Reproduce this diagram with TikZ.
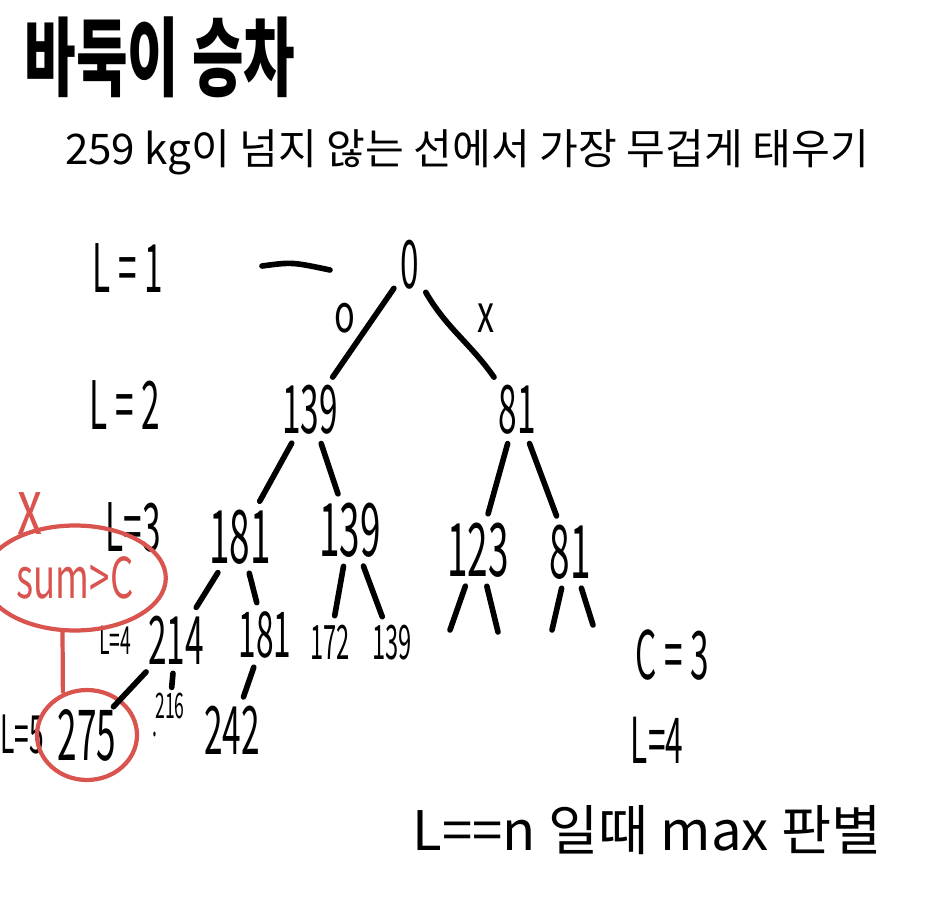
\documentclass[tikz,border=0pt]{standalone}
\usepackage{fontspec}
\usetikzlibrary{shapes.geometric}
\setmainfont{Noto Sans CJK KR}
\newfontfamily\numfont[FakeStretch=0.5]{Noto Sans CJK KR}
\newfontfamily\titlefont[FakeStretch=0.65]{Noto Sans CJK KR}
\newcommand{\fsz}[1]{\fontsize{#1}{#1}\selectfont}
\definecolor{pen}{HTML}{D9534F}

\begin{document}
\begin{tikzpicture}[x=0.02cm,y=-0.02cm]
  \tikzstyle{num} = [inner sep=2pt, font=\numfont\fsz{38pt}]
  \tikzstyle{big} = [inner sep=2pt, font=\numfont\fsz{42pt}]
  \tikzstyle{small} = [inner sep=2pt, font=\numfont\fsz{27pt}]
  \tikzstyle{edge} = [line width=3.2pt, line cap=round, shorten <=3pt, shorten >=3pt]
  \tikzstyle{redring} = [draw=pen, line width=2.4pt, ellipse]
  \useasboundingbox (0,0) rectangle (946,902);

  % Heading
  \node (title) at (160,57) {\titlefont\bfseries\fsz{49pt}바둑이 승차};
  \node (task) at (467,152) {\fsz{24pt}259 kg이 넘지 않는 선에서 가장 무겁게 태우기};

  % Levels
  \node [num] (lv1) at (128,268) {L = 1};
  \node [num] (lv2) at (125,405) {L = 2};
  \node [num] (lv3) at (133,527) {L=3};
  \node [small, font=\numfont\fsz{22pt}] (lv4) at (115,640) {L=4};
  \node [num, font=\numfont\fsz{30pt}] (lv5) at (22,735) {L=5};

  % Tree
  \node [num] (root) at (410,265) {0};
  \node [num] (a1) at (310,410) {139};
  \node [num] (a2) at (517,410) {81};
  \node [big] (b1) at (240,537) {181};
  \node [big] (b2) at (350,530) {139};
  \node [big] (b3) at (478,550) {123};
  \node [big] (b4) at (570,552) {81};
  \node [num] (c1) at (176,640) {214};
  \node [num, font=\numfont\fsz{36pt}] (c2) at (265,635) {181};
  \node [small] (c3) at (330,642) {172};
  \node [small] (c4) at (392,643) {139};
  \node [num, font=\numfont\fsz{40pt}, redring, minimum width=2cm, minimum height=1.8cm] (d1) at (87,735) {275};
  \node [small, font=\numfont\fsz{20pt}] (d2) at (170,706) {216};
  \node [num] (d3) at (232,730) {242};
  \node [small, font=\numfont\fsz{20pt}] (dot) at (155,735) {.};

  % Choice labels
  \node [num, font=\titlefont\fsz{30pt}] (yes) at (345,318) {o};
  \node [num, font=\titlefont\fsz{30pt}] (no) at (486,318) {x};

  % Open ends
  \coordinate (b3l) at (450,630);
  \coordinate (b3r) at (498,632);
  \coordinate (b4l) at (552,630);
  \coordinate (b4r) at (593,625);

  % Edges
  \draw [edge, shorten <=0pt, shorten >=0pt] (262,266) .. controls (292,262) .. (330,270);
  \draw [edge] (root) -- (a1);
  \draw [edge] (root) to[out=-60,in=125] (a2);
  \draw [edge] (a1) -- (b1);
  \draw [edge] (a1) -- (b2);
  \draw [edge] (a2) -- (b3);
  \draw [edge] (a2) -- (b4);
  \draw [edge] (b1) -- (c1);
  \draw [edge] (b1) -- (c2);
  \draw [edge] (b2) -- (c3);
  \draw [edge] (b2) -- (c4);
  \draw [edge, shorten >=0pt] (b3) -- (b3l);
  \draw [edge, shorten >=0pt] (b3) -- (b3r);
  \draw [edge, shorten >=0pt] (b4) -- (b4l);
  \draw [edge, shorten >=0pt] (b4) -- (b4r);
  \draw [edge, shorten >=-6pt] (c1) -- (d1);
  \draw [edge, shorten >=1pt] (c1) -- (d2);
  \draw [edge] (c2) -- (d3);

  % Pruned branch
  \node [redring, text=pen, font=\titlefont\fsz{32pt}, minimum width=2.96cm, minimum height=2.1cm] (sumc) at (75,578) {sum>C};
  \node [text=pen, font=\titlefont\fsz{44pt}] (cut) at (30,514) {x};
  \draw [draw=pen, line width=2.4pt] (sumc.257) -- (d1.120);

  % Notes
  \node [num] (cap) at (672,655) {C = 3};
  \node [num, font=\numfont\fsz{36pt}] (depth) at (657,740) {L=4};
  \node (rule) at (647,830) {\fsz{31pt}L==n 일때 max 판별};
\end{tikzpicture}
\end{document}
